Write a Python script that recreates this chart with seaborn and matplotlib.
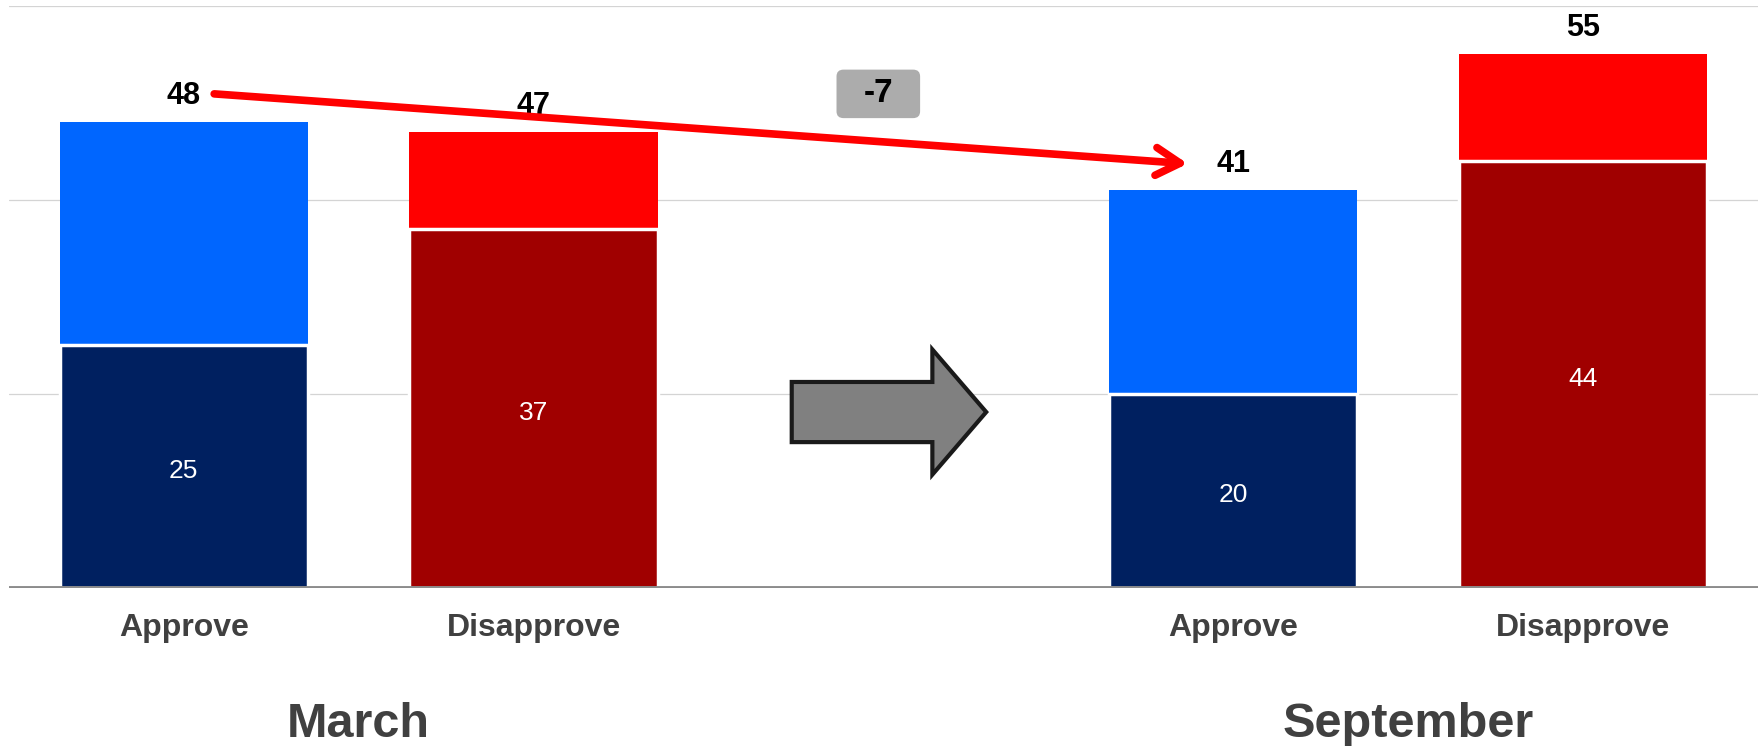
"""Approve / disapprove shift between March and September, stacked bars."""

import matplotlib

matplotlib.use("Agg")
import matplotlib.pyplot as plt
import pandas as pd
import seaborn as sns
from matplotlib.patches import FancyArrow, FancyBboxPatch

# ---- data -----------------------------------------------------------------
positions = [0, 1, 3, 4]  # slot 2 is left empty for the block arrow
answers = ["Approve", "Disapprove", "Approve", "Disapprove"]
months = ["March", "September"]
month_centers = [0.5, 3.5]
keys = ["mar_app", "mar_dis", "sep_app", "sep_dis"]
totals = [48, 47, 41, 55]
strong = [25, 37, 20, 44]
change_label = "-7"

light_colors = ["#0066ff", "#ff0000", "#0066ff", "#ff0000"]
dark_colors = ["#002060", "#a00000", "#002060", "#a00000"]

df = pd.DataFrame({"pos": positions, "key": keys, "total": totals, "strong": strong})

# ---- style ----------------------------------------------------------------
sns.set_style("white")
FONT = ["Liberation Sans Narrow", "Liberation Sans", "DejaVu Sans"]
plt.rcParams["font.family"] = FONT

fig = plt.figure(figsize=(17.65, 7.46), dpi=100)
ax = fig.add_axes([0.005, 0.2123, 0.991, 0.7802])

# light (total) bars first, dark (strong) bars stacked over them
sns.barplot(
    data=df, x="pos", y="total", hue="key", native_scale=True,
    palette=dict(zip(keys, light_colors)), width=0.71, legend=False,
    saturation=1, ax=ax, linewidth=0,
)
sns.barplot(
    data=df, x="pos", y="strong", hue="key", native_scale=True,
    palette=dict(zip(keys, dark_colors)), width=0.71, legend=False,
    saturation=1, ax=ax, edgecolor="white", linewidth=2.5,
)

ax.set_xlim(-0.5, 4.5)
ax.set_ylim(0, 60)
ax.set_yticks([0, 20, 40, 60])
ax.set_yticklabels([])
ax.yaxis.grid(True, color="#d4d4d4", linewidth=0.9, zorder=0)
ax.set_axisbelow(True)
ax.axhline(0, color="#8c8c8c", linewidth=2.8, zorder=5)
sns.despine(ax=ax, left=True, bottom=True)
ax.tick_params(axis="both", length=0)
ax.set_xlabel("")
ax.set_ylabel("")

ax.set_xticks(positions)
ax.set_xticklabels(answers, fontsize=23, fontweight="bold", color="#404040")
ax.tick_params(axis="x", pad=18)

# values
for x, tot, st in zip(positions, totals, strong):
    ax.text(x, tot + 2.7, f"{tot}", ha="center", va="center",
            fontsize=22, fontweight="bold", color="black")
    ax.text(x, st / 2 - 0.5, f"{st}", ha="center", va="center",
            fontsize=19, color="white")

# month captions
for x, m in zip(month_centers, months):
    ax.text(x, -0.235, m, transform=ax.get_xaxis_transform(), ha="center",
            va="center", fontsize=35, fontweight="bold", color="#404040")

# red trend arrow from March approve to September approve
ax.annotate(
    "", xy=(2.87, 43.7), xytext=(0.087, 50.9),
    arrowprops=dict(arrowstyle="->,head_length=0.87,head_width=0.5",
                    color="#ff0000", lw=5.5, mutation_scale=20,
                    shrinkA=0, shrinkB=0, capstyle="round"),
    zorder=6,
)
# grey rounded label box for the change
ax.add_patch(FancyBboxPatch((1.866, 48.4), 0.239, 5.0,
                            boxstyle="round,pad=0,rounding_size=0.02",
                            mutation_aspect=35, facecolor="#acacac",
                            edgecolor="none", zorder=7))
ax.text(1.985, 50.9, change_label, ha="center", va="center", fontsize=24,
        fontweight="bold", color="black", zorder=8)

# grey block arrow between the two months
ax.add_patch(FancyArrow(1.738, 18.1, 0.556, 0, width=6.2, head_width=12.9,
                        head_length=0.154, length_includes_head=True,
                        facecolor="#808080", edgecolor="#1a1a1a",
                        linewidth=3, zorder=6))

fig.savefig("out.png", dpi=100)
plt.close(fig)
